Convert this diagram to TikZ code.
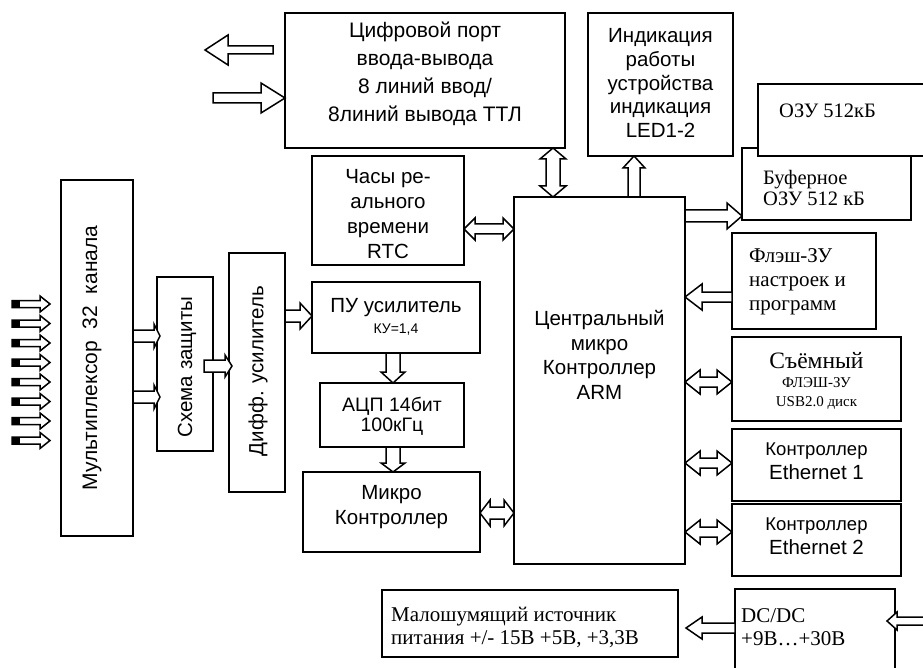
\documentclass[tikz,border=0pt]{standalone}
\usepackage{fontspec}
\setmainfont{Liberation Sans}
\newfontfamily\tms{Liberation Serif}
\newcommand\bx[5]{\node[box, minimum width={#4-#2}, minimum height={#5-#3}] (#1) at ({(#2+#4)/2},{(#3+#5)/2}) {};}
% right arrow: tail x, tip x, y, head length, shaft half, head half
\newcommand\arR[6]{\draw[barrow] (#1,#3-#5) -- (#2-#4,#3-#5) -- (#2-#4,#3-#6) -- (#2,#3) -- (#2-#4,#3+#6) -- (#2-#4,#3+#5) -- (#1,#3+#5) -- cycle;}
\newcommand\arL[6]{\draw[barrow] (#1,#3-#5) -- (#2+#4,#3-#5) -- (#2+#4,#3-#6) -- (#2,#3) -- (#2+#4,#3+#6) -- (#2+#4,#3+#5) -- (#1,#3+#5) -- cycle;}
\newcommand\arD[6]{\draw[barrow] (#3-#5,#1) -- (#3-#5,#2-#4) -- (#3-#6,#2-#4) -- (#3,#2) -- (#3+#6,#2-#4) -- (#3+#5,#2-#4) -- (#3+#5,#1) -- cycle;}
\newcommand\arU[6]{\draw[barrow] (#3-#5,#1) -- (#3-#5,#2+#4) -- (#3-#6,#2+#4) -- (#3,#2) -- (#3+#6,#2+#4) -- (#3+#5,#2+#4) -- (#3+#5,#1) -- cycle;}
% double horizontal: x1, x2, y, head length, shaft half, head half
\newcommand\arH[6]{\draw[barrow] (#1,#3) -- (#1+#4,#3-#6) -- (#1+#4,#3-#5) -- (#2-#4,#3-#5) -- (#2-#4,#3-#6) -- (#2,#3) -- (#2-#4,#3+#6) -- (#2-#4,#3+#5) -- (#1+#4,#3+#5) -- (#1+#4,#3+#6) -- cycle;}
\newcommand\arV[6]{\draw[barrow] (#3,#1) -- (#3-#6,#1+#4) -- (#3-#5,#1+#4) -- (#3-#5,#2-#4) -- (#3-#6,#2-#4) -- (#3,#2) -- (#3+#6,#2-#4) -- (#3+#5,#2-#4) -- (#3+#5,#1+#4) -- (#3+#6,#1+#4) -- cycle;}
\tikzset{
 box/.style={draw, line width=1.5pt, fill=white, inner sep=0pt},
 barrow/.style={draw, line width=1.5pt, fill=white, line join=miter},
 t/.style={inner sep=0pt, align=center, font=\fontsize{20.5}{24.5}\selectfont},
 tl/.style={inner sep=0pt, align=left, anchor=west, font=\tms\fontsize{21}{23}\selectfont},
}
\begin{document}
\begin{tikzpicture}[x=1pt,y=-1pt]
\useasboundingbox (0,0) rectangle (923,668);
\clip (0,0) rectangle (923,668);
% --- boxes ---
\bx{port}{285}{13}{565}{148}
\node[t, font=\fontsize{21}{28}\selectfont] (portT) at (425,74) {Цифровой порт\\ввода-вывода\\8 линий ввод/\\8линий вывода ТТЛ};
\bx{ind}{588}{13}{733}{156}
\node[t, font=\fontsize{20.5}{23.8}\selectfont] (indT) at (660.5,83) {Индикация\\работы\\устройства\\индикация\\LED1-2};
\bx{buf}{742}{148}{911}{220}
\node[tl, font=\tms\fontsize{20.5}{21}\selectfont] (bufT) at (763,188) {Буферное\\ОЗУ 512 кБ};
\bx{ozu}{758}{84}{940}{156}
\node[tl, font=\tms\fontsize{20.5}{21}\selectfont] (ozuT) at (779,111) {ОЗУ 512кБ};
\bx{rtc}{312}{156}{464}{265}
\node[t, font=\fontsize{20.5}{25}\selectfont] (rtcT) at (388,214) {Часы ре-\\ального\\времени\\RTC};
\bx{pu}{312}{282}{480}{353}
\node[t] (puT) at (396,317) {ПУ усилитель\\[-4pt]{\fontsize{14}{16}\selectfont КУ=1,4}};
\bx{adc}{320}{383}{464}{447}
\node[t, font=\fontsize{19.5}{20}\selectfont] (adcT) at (392,416) {АЦП 14бит\\100кГц};
\bx{mcu}{303}{472}{480}{552}
\node[t, font=\fontsize{20.5}{25}\selectfont] (mcuT) at (391.5,507) {Микро\\Контроллер};
\bx{cpu}{514}{197}{685}{564}
\node[t, font=\fontsize{20.5}{24.7}\selectfont] (cpuT) at (599.5,355) {Центральный\\микро\\Контроллер\\ARM};
\bx{mux}{61}{180}{133}{536}
\node[t, rotate=90, font=\fontsize{21}{24}\selectfont] (muxT) at (92,358) {Мультиплексор\ \ 32\ \ канала};
\bx{prot}{157}{277}{213}{451}
\node[t, rotate=90] (protT) at (187,367) {Схема защиты};
\bx{diff}{229}{253}{285}{492}
\node[t, rotate=90] (diffT) at (258,371) {Дифф. усилитель};
\bx{flash}{732}{233}{876}{329}
\node[tl, font=\tms\fontsize{21}{24}\selectfont] (flashT) at (749,282) {Флэш-ЗУ\\настроек и\\программ};
\bx{usb}{732}{337}{901}{421}
\node[t, font=\tms\fontsize{15}{19}\selectfont] (usbT) at (816.5,381) {{\fontsize{23.5}{24}\selectfont Съёмный}\\ФЛЭШ-ЗУ\\USB2.0 диск};
\bx{eth1}{732}{429}{901}{501}
\node[t] (eth1T) at (816.5,461) {{\fontsize{18.5}{20}\selectfont Контроллер}\\Ethernet 1};
\bx{eth2}{732}{504}{901}{576}
\node[t] (eth2T) at (816.5,536) {{\fontsize{18.5}{20}\selectfont Контроллер}\\Ethernet 2};
\bx{psu}{382}{590}{678}{657}
\node[tl] (psuT) at (391,627) {Малошумящий источник\\питания +/- 15В +5В, +3,3В};
\bx{dcdc}{735}{589}{895}{700}
\node[tl] (dcdcT) at (741,627) {DC/DC\\+9В…+30В};
% --- arrows ---
\arL{273}{205}{50}{23}{4}{15}
\arR{213}{285}{98}{24}{5}{15}
\arV{148}{197}{553}{11}{7}{13}
\arU{197}{156}{634}{12}{6}{11}
\arH{464}{514}{229}{11}{5}{11}
\arR{685}{742}{216}{15}{6}{13}
\arL{732}{685}{297}{17}{5}{13}
\arH{685}{732}{382}{15}{5}{12}
\arH{685}{732}{463}{15}{5}{12}
\arH{685}{732}{532}{15}{5}{12}
\arH{480}{514}{513}{10}{6}{13}
\arR{285}{312}{316}{12}{6}{13}
\arD{353}{383}{393}{11}{7}{12}
\arD{447}{472}{393}{9}{7}{12}
\arR{133}{160}{336}{6}{6}{12}
\arR{133}{160}{397}{6}{6}{12}
\arR{204}{232}{366}{7}{6}{11}
\arL{735}{686}{628}{16}{5}{11}
\arL{940}{887}{621}{10}{4}{9}
% input arrows
\foreach \i in {0,...,7}{
  \pgfmathsetmacro\yy{304+19.5*\i}
  \arR{12}{50}{\yy}{10}{3.5}{8}
  \fill (12,\yy-3.5) rectangle (20,\yy+3.5);
}
\end{tikzpicture}
\end{document}
